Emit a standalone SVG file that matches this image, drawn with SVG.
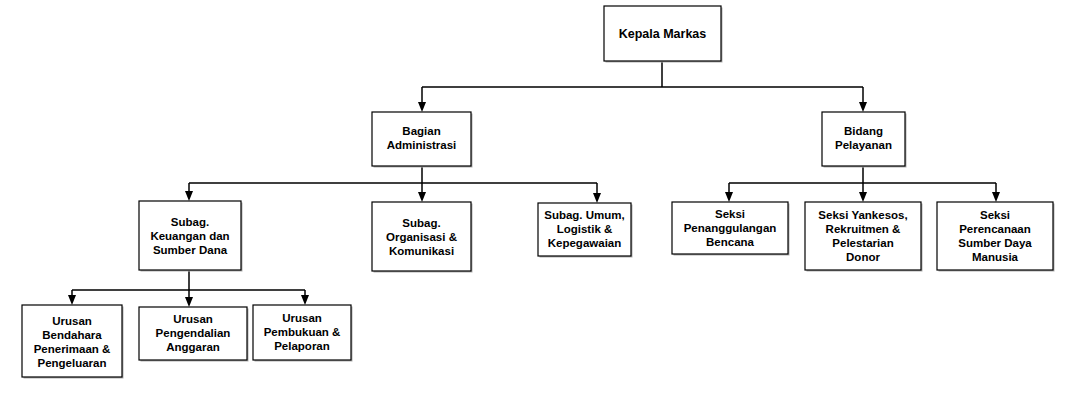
<svg xmlns="http://www.w3.org/2000/svg" width="1071" height="401" viewBox="0 0 1071 401">
<style>
.box{fill:#fff;stroke:#000;stroke-width:1.2}
.sh{fill:#b0b0b0}
.t{font-family:"Liberation Sans",Arial,sans-serif;font-weight:bold;font-size:11.5px;fill:#000;text-anchor:middle}
.c{fill:none;stroke:#000;stroke-width:1.5}
.a{fill:#000}
</style>
<rect width="1071" height="401" fill="#fff"/>
<g id="connectors">
<path class="c" d="M662,61 V87 M422,87 H863"/>
<line class="c" x1="422" y1="87" x2="422" y2="105"/>
<path class="a" d="M418,102 L426,102 L422,112 Z"/>
<line class="c" x1="863" y1="87" x2="863" y2="105"/>
<path class="a" d="M859,102 L867,102 L863,112 Z"/>
<path class="c" d="M422,166 V183 M189,183 H597"/>
<path class="c" d="M863,166 V183 M729,183 H996"/>
<path class="c" d="M189,270 V290 M72,290 H305"/>
<line class="c" x1="189" y1="183" x2="189" y2="195"/>
<path class="a" d="M185,191 L193,191 L189,201 Z"/>
<line class="c" x1="422" y1="183" x2="422" y2="196"/>
<path class="a" d="M418,192 L426,192 L422,202 Z"/>
<line class="c" x1="597" y1="183" x2="597" y2="197"/>
<path class="a" d="M593,193 L601,193 L597,203 Z"/>
<line class="c" x1="729" y1="183" x2="729" y2="196"/>
<path class="a" d="M725,192 L733,192 L729,202 Z"/>
<line class="c" x1="863" y1="183" x2="863" y2="196"/>
<path class="a" d="M859,192 L867,192 L863,202 Z"/>
<line class="c" x1="996" y1="183" x2="996" y2="196"/>
<path class="a" d="M992,192 L1000,192 L996,202 Z"/>
<line class="c" x1="72" y1="290" x2="72" y2="299"/>
<path class="a" d="M68,295 L76,295 L72,305 Z"/>
<line class="c" x1="189" y1="290" x2="189" y2="301"/>
<path class="a" d="M185,297 L193,297 L189,307 Z"/>
<line class="c" x1="305" y1="290" x2="305" y2="299"/>
<path class="a" d="M301,295 L309,295 L305,305 Z"/>
</g>
<g id="kepala">
<rect class="sh" x="605.5" y="7.5" width="117" height="55"/>
<rect class="box" x="604" y="6" width="117" height="55"/>
<text class="t" x="662.5" y="38" style="font-size:12.5px">Kepala Markas</text>
</g>
<g id="bagian-admin">
<rect class="sh" x="373.5" y="113.5" width="99" height="54"/>
<rect class="box" x="372" y="112" width="99" height="54"/>
<text class="t" x="421.5" y="135">Bagian</text>
<text class="t" x="421.5" y="149">Administrasi</text>
</g>
<g id="bidang-pelayanan">
<rect class="sh" x="823.5" y="113.5" width="83" height="54"/>
<rect class="box" x="822" y="112" width="83" height="54"/>
<text class="t" x="863.5" y="135">Bidang</text>
<text class="t" x="863.5" y="149">Pelayanan</text>
</g>
<g id="subag-keuangan">
<rect class="sh" x="140.5" y="202.5" width="102" height="69"/>
<rect class="box" x="139" y="201" width="102" height="69"/>
<text class="t" x="190" y="226">Subag.</text>
<text class="t" x="190" y="240">Keuangan dan</text>
<text class="t" x="190" y="254">Sumber Dana</text>
</g>
<g id="subag-organisasi">
<rect class="sh" x="373.5" y="203.5" width="99" height="69"/>
<rect class="box" x="372" y="202" width="99" height="69"/>
<text class="t" x="421.5" y="227">Subag.</text>
<text class="t" x="421.5" y="241">Organisasi &amp;</text>
<text class="t" x="421.5" y="255">Komunikasi</text>
</g>
<g id="subag-umum">
<rect class="sh" x="539.5" y="204.5" width="93" height="53"/>
<rect class="box" x="538" y="203" width="93" height="53"/>
<text class="t" x="584.5" y="219">Subag. Umum,</text>
<text class="t" x="584.5" y="233">Logistik &amp;</text>
<text class="t" x="584.5" y="247">Kepegawaian</text>
</g>
<g id="seksi-penanggulangan">
<rect class="sh" x="673.5" y="203.5" width="116" height="52"/>
<rect class="box" x="672" y="202" width="116" height="52"/>
<text class="t" x="730" y="218">Seksi</text>
<text class="t" x="730" y="232">Penanggulangan</text>
<text class="t" x="730" y="246">Bencana</text>
</g>
<g id="seksi-yankesos">
<rect class="sh" x="806.5" y="203.5" width="116" height="68"/>
<rect class="box" x="805" y="202" width="116" height="68"/>
<text class="t" x="863" y="219">Seksi Yankesos,</text>
<text class="t" x="863" y="233">Rekruitmen &amp;</text>
<text class="t" x="863" y="247">Pelestarian</text>
<text class="t" x="863" y="261">Donor</text>
</g>
<g id="seksi-perencanaan">
<rect class="sh" x="938.5" y="203.5" width="116" height="68"/>
<rect class="box" x="937" y="202" width="116" height="68"/>
<text class="t" x="995" y="219">Seksi</text>
<text class="t" x="995" y="233">Perencanaan</text>
<text class="t" x="995" y="247">Sumber Daya</text>
<text class="t" x="995" y="261">Manusia</text>
</g>
<g id="urusan-bendahara">
<rect class="sh" x="23.5" y="306.5" width="100" height="72"/>
<rect class="box" x="22" y="305" width="100" height="72"/>
<text class="t" x="72" y="325">Urusan</text>
<text class="t" x="72" y="339">Bendahara</text>
<text class="t" x="72" y="353">Penerimaan &amp;</text>
<text class="t" x="72" y="367">Pengeluaran</text>
</g>
<g id="urusan-pengendalian">
<rect class="sh" x="140.5" y="308.5" width="108" height="53"/>
<rect class="box" x="139" y="307" width="108" height="53"/>
<text class="t" x="193" y="323">Urusan</text>
<text class="t" x="193" y="337">Pengendalian</text>
<text class="t" x="193" y="351">Anggaran</text>
</g>
<g id="urusan-pembukuan">
<rect class="sh" x="254.5" y="306.5" width="98" height="55"/>
<rect class="box" x="253" y="305" width="98" height="55"/>
<text class="t" x="302" y="322">Urusan</text>
<text class="t" x="302" y="336">Pembukuan &amp;</text>
<text class="t" x="302" y="350">Pelaporan</text>
</g>
</svg>
